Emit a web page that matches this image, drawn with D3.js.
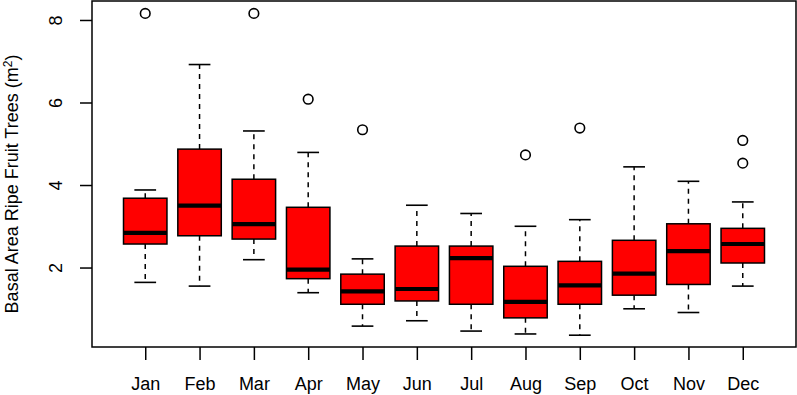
<!DOCTYPE html>
<html>
<head>
<meta charset="utf-8">
<script src="https://cdn.jsdelivr.net/npm/d3@7"></script>
<style>
  body { margin: 0; background: #fff; }
  svg text { font-family: "Liberation Sans", Arial, sans-serif; fill: #000; }
</style>
</head>
<body>
<svg id="chart" width="797" height="395"></svg>
<script>
// boxplot statistics
var months = ["Jan","Feb","Mar","Apr","May","Jun","Jul","Aug","Sep","Oct","Nov","Dec"];
var lowWhisker  = [1.64, 1.55, 2.19, 1.39, 0.58, 0.71, 0.46, 0.39, 0.36, 1.00, 0.91, 1.55];
var q1          = [2.57, 2.77, 2.69, 1.73, 1.11, 1.19, 1.11, 0.78, 1.11, 1.33, 1.59, 2.11];
var medians     = [2.84, 3.50, 3.05, 1.95, 1.42, 1.48, 2.23, 1.17, 1.57, 1.85, 2.40, 2.57];
var q3          = [3.68, 4.87, 4.14, 3.46, 1.84, 2.52, 2.52, 2.03, 2.15, 2.66, 3.06, 2.95];
var highWhisker = [3.88, 6.92, 5.31, 4.79, 2.21, 3.51, 3.31, 3.00, 3.16, 4.44, 4.09, 3.59];
var outliers    = [[8.16], [], [8.16], [6.08], [5.34], [], [], [4.73], [5.38], [], [], [5.08, 4.53]];
var yTicks = [2, 4, 6, 8];

var svg = d3.select("#chart");
var plot = {left: 92, right: 796, top: 1, bottom: 347};
var fontSize = 18;

var x = d3.scaleLinear().domain([0.02, 12.98]).range([plot.left, plot.right]);
var y = d3.scaleLinear().domain([0.074, 8.46]).range([plot.bottom, plot.top]);
var step = x(2) - x(1);
var boxW = step * 0.8, capW = boxW * 0.5;

var boxes = months.map(function(m, i) {
  return {m: m, i: i + 1, lo: lowWhisker[i], q1: q1[i], med: medians[i], q3: q3[i], hi: highWhisker[i], out: outliers[i]};
});

var g = svg.append("g");

// whiskers (dashed)
g.selectAll(".wl").data(boxes).enter().append("line")
  .attr("x1", d => x(d.i)).attr("x2", d => x(d.i))
  .attr("y1", d => y(d.q3)).attr("y2", d => y(d.hi))
  .attr("stroke", "#000").attr("stroke-width", 1.5).attr("stroke-dasharray", "5,5");
g.selectAll(".wh").data(boxes).enter().append("line")
  .attr("x1", d => x(d.i)).attr("x2", d => x(d.i))
  .attr("y1", d => y(d.q1)).attr("y2", d => y(d.lo))
  .attr("stroke", "#000").attr("stroke-width", 1.5).attr("stroke-dasharray", "5,5");
// caps
["lo", "hi"].forEach(function(k) {
  g.selectAll(".cap" + k).data(boxes).enter().append("line")
    .attr("x1", d => x(d.i) - capW / 2).attr("x2", d => x(d.i) + capW / 2)
    .attr("y1", d => y(d[k])).attr("y2", d => y(d[k]))
    .attr("stroke", "#000").attr("stroke-width", 1.6);
});
// boxes
g.selectAll(".box").data(boxes).enter().append("rect")
  .attr("x", d => x(d.i) - boxW / 2).attr("width", boxW)
  .attr("y", d => y(d.q3)).attr("height", d => y(d.q1) - y(d.q3))
  .attr("fill", "#ff0000").attr("stroke", "#000").attr("stroke-width", 1.5);
// medians
g.selectAll(".med").data(boxes).enter().append("line")
  .attr("x1", d => x(d.i) - boxW / 2).attr("x2", d => x(d.i) + boxW / 2)
  .attr("y1", d => y(d.med)).attr("y2", d => y(d.med))
  .attr("stroke", "#000").attr("stroke-width", 4.2);
// outliers
boxes.forEach(function(d) {
  g.selectAll(null).data(d.out).enter().append("circle")
    .attr("cx", x(d.i)).attr("cy", v => y(v)).attr("r", 4.8)
    .attr("fill", "none").attr("stroke", "#000").attr("stroke-width", 1.6);
});

// frame
svg.append("rect")
  .attr("x", plot.left).attr("y", plot.top)
  .attr("width", plot.right - plot.left).attr("height", plot.bottom - plot.top)
  .attr("fill", "none").attr("stroke", "#000").attr("stroke-width", 1.5);

// x axis
var xAxis = svg.append("g")
  .attr("transform", "translate(0," + plot.bottom + ")")
  .call(d3.axisBottom(x).tickValues(d3.range(1, 13)).tickFormat(i => months[i - 1]).tickSize(13).tickPadding(17));
xAxis.select(".domain").remove();
xAxis.selectAll("line").attr("stroke-width", 1.5);
xAxis.selectAll("text").attr("font-size", fontSize).attr("font-family", "Liberation Sans, Arial, sans-serif");

// y axis, labels rotated like R's default
var yAxis = svg.append("g")
  .attr("transform", "translate(" + plot.left + ",0)")
  .call(d3.axisLeft(y).tickValues(yTicks).tickSize(12));
yAxis.select(".domain").remove();
yAxis.selectAll("line").attr("stroke-width", 1.5);
yAxis.selectAll("text").remove();
yAxis.selectAll(".tick").append("text")
  .attr("transform", "translate(-30,0) rotate(-90)")
  .attr("text-anchor", "middle")
  .attr("font-size", fontSize)
  .text(d => d);

// y label
var lab = svg.append("text")
  .attr("transform", "translate(18,184) rotate(-90)")
  .attr("text-anchor", "middle")
  .attr("font-size", fontSize);
lab.append("tspan").text("Basal Area Ripe Fruit Trees (m");
lab.append("tspan").attr("font-size", 12).attr("dy", -6).text("2");
lab.append("tspan").attr("dy", 6).text(")");
</script>
</body>
</html>
